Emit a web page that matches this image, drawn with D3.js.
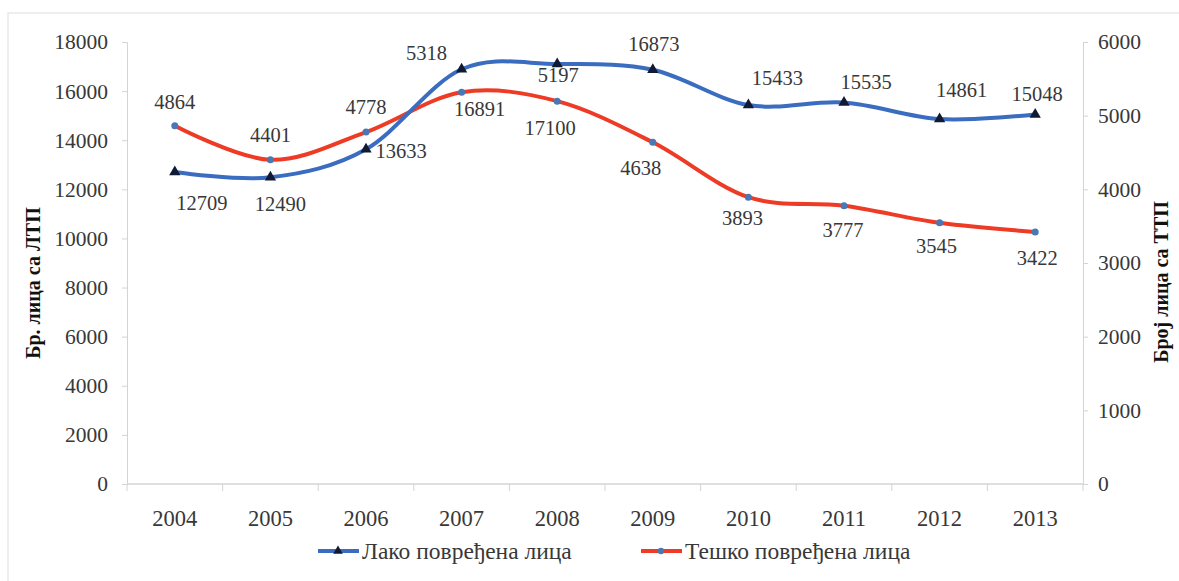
<!DOCTYPE html>
<html>
<head>
<meta charset="utf-8">
<script src="https://cdn.jsdelivr.net/npm/d3@7"></script>
<style>
  body { margin: 0; background: #fff; }
</style>
</head>
<body>
<script>
// data
const years = ['2004', '2005', '2006', '2007', '2008', '2009', '2010', '2011', '2012', '2013'];
const lako = [12709, 12490, 13633, 16891, 17100, 16873, 15433, 15535, 14861, 15048];
const tesko = [4864, 4401, 4778, 5318, 5197, 4638, 3893, 3777, 3545, 3422];
const leftTicks = [0, 2000, 4000, 6000, 8000, 10000, 12000, 14000, 16000, 18000];
const rightTicks = [0, 1000, 2000, 3000, 4000, 5000, 6000];
const seriesNames = ['Лако повређена лица', 'Тешко повређена лица'];

// label offsets (px) as placed in the original
const lakoLabelOff = [[27, 31], [10, 27], [35, 2], [18, 40], [-7, 64], [1, -26], [29, -27], [22, -21], [22, -29], [2, -21]];
const teskoLabelOff = [[0, -24], [0, -25], [0, -25], [-35, -39], [1, -26], [-12, 25], [-6, 21], [-1, 24], [-3, 23], [2, 26]];

const width = 1179, height = 581;
const margin = { top: 42, bottom: 97, left: 127, right: 96 };
const serif = '"Liberation Serif", "DejaVu Serif", serif';
const txtColor = '#383838';

const svg = d3.select('body').append('svg')
  .attr('width', width)
  .attr('height', height)
  .style('font-family', serif);

// outer frame (only top/left visible in the picture)
svg.append('rect')
  .attr('x', 8).attr('y', 13)
  .attr('width', 1250).attr('height', 650)
  .attr('fill', 'none').attr('stroke', '#e3e3e3').attr('stroke-width', 1.2);

const x = d3.scaleBand()
  .domain(years)
  .range([margin.left, width - margin.right])
  .padding(0);
const cx = d => x(d) + x.bandwidth() / 2;

const yL = d3.scaleLinear().domain([0, 18000]).range([height - margin.bottom, margin.top]);
const yR = d3.scaleLinear().domain([0, 6000]).range([height - margin.bottom, margin.top]);

const axisColor = '#d4d4d4';

// left axis
const gL = svg.append('g')
  .attr('transform', 'translate(' + margin.left + ',0)')
  .call(d3.axisLeft(yL).tickValues(leftTicks).tickSize(5).tickPadding(14).tickFormat(d3.format('d')));
// right axis
const gR = svg.append('g')
  .attr('transform', 'translate(' + (width - margin.right) + ',0)')
  .call(d3.axisRight(yR).tickValues(rightTicks).tickSize(5).tickPadding(10).tickFormat(d3.format('d')));

[gL, gR].forEach(g => {
  g.attr('font-family', null).attr('font-size', null);
  g.selectAll('path, line').attr('stroke', axisColor);
  g.selectAll('text')
    .style('font-family', serif).style('font-size', '21.5px')
    .attr('fill', txtColor);
});

// bottom axis: line + separators between categories
const base = yL(0);
svg.append('line')
  .attr('x1', margin.left).attr('x2', width - margin.right)
  .attr('y1', base).attr('y2', base)
  .attr('stroke', axisColor).attr('stroke-width', 1.5);
svg.selectAll('.sep').data(years.concat(['end']))
  .enter().append('line')
  .attr('x1', d => d === 'end' ? width - margin.right : x(d))
  .attr('x2', d => d === 'end' ? width - margin.right : x(d))
  .attr('y1', base).attr('y2', base + 7)
  .attr('stroke', axisColor);
svg.selectAll('.year').data(years)
  .enter().append('text')
  .attr('x', cx)
  .attr('y', base + 42)
  .attr('text-anchor', 'middle')
  .style('font-family', serif).style('font-size', '22.5px')
  .attr('fill', txtColor)
  .text(d => d);

// axis titles
svg.append('text')
  .attr('transform', 'translate(40,' + 283 + ') rotate(-90)')
  .attr('text-anchor', 'middle')
  .style('font-family', serif).style('font-size', '20px').style('font-weight', 'bold')
  .attr('fill', '#111')
  .text('Бр. лица са ЛТП');
svg.append('text')
  .attr('transform', 'translate(1168,' + 282 + ') rotate(-90)')
  .attr('text-anchor', 'middle')
  .style('font-family', serif).style('font-size', '20px').style('font-weight', 'bold')
  .attr('fill', '#111')
  .text('Број лица са ТТП');

// lines
const blue = '#3a6cc0', red = '#ee3b25';
const curve = d3.curveCardinal.tension(0);

const lineL = d3.line().x((d, i) => cx(years[i])).y(d => yL(d)).curve(curve);
const lineR = d3.line().x((d, i) => cx(years[i])).y(d => yR(d)).curve(curve);

svg.append('path').datum(tesko)
  .attr('d', lineR).attr('fill', 'none')
  .attr('stroke', red).attr('stroke-width', 4).attr('stroke-linecap', 'round');
svg.append('path').datum(lako)
  .attr('d', lineL).attr('fill', 'none')
  .attr('stroke', blue).attr('stroke-width', 4).attr('stroke-linecap', 'round');

// markers
const tri = d3.symbol().type(d3.symbolTriangle).size(55);
svg.selectAll('.tri').data(lako)
  .enter().append('path')
  .attr('d', tri)
  .attr('transform', (d, i) => 'translate(' + cx(years[i]) + ',' + yL(d) + ')')
  .attr('fill', '#111a33');
svg.selectAll('.dot').data(tesko)
  .enter().append('circle')
  .attr('cx', (d, i) => cx(years[i]))
  .attr('cy', d => yR(d))
  .attr('r', 3.5)
  .attr('fill', '#4a78b4');

// data labels
svg.selectAll('.lblL').data(lako)
  .enter().append('text')
  .attr('x', (d, i) => cx(years[i]) + lakoLabelOff[i][0])
  .attr('y', (d, i) => yL(d) + lakoLabelOff[i][1])
  .attr('dy', '0.35em')
  .attr('text-anchor', 'middle')
  .style('font-family', serif).style('font-size', '20.5px')
  .attr('fill', txtColor)
  .text(d => d);
svg.selectAll('.lblR').data(tesko)
  .enter().append('text')
  .attr('x', (d, i) => cx(years[i]) + teskoLabelOff[i][0])
  .attr('y', (d, i) => yR(d) + teskoLabelOff[i][1])
  .attr('dy', '0.35em')
  .attr('text-anchor', 'middle')
  .style('font-family', serif).style('font-size', '20.5px')
  .attr('fill', txtColor)
  .text(d => d);

// legend
const legendY = 551;
const legend = [
  { x: 318, color: blue, marker: 'tri' },
  { x: 641, color: red, marker: 'dot' }
];
legend.forEach((l, i) => {
  const g = svg.append('g').attr('transform', 'translate(' + l.x + ',' + legendY + ')');
  g.append('line').attr('x1', 0).attr('x2', 41).attr('y1', 0).attr('y2', 0)
    .attr('stroke', l.color).attr('stroke-width', 4);
  if (l.marker === 'tri') {
    g.append('path').attr('d', d3.symbol().type(d3.symbolTriangle).size(40))
      .attr('transform', 'translate(20,0)').attr('fill', '#111a33');
  } else {
    g.append('circle').attr('cx', 20).attr('cy', 0).attr('r', 3.2).attr('fill', '#4a78b4');
  }
  g.append('text').attr('x', 44).attr('y', 0).attr('dy', '0.35em')
    .style('font-family', serif).style('font-size', '23.5px')
    .attr('fill', txtColor)
    .text(seriesNames[i]);
});
</script>
</body>
</html>
